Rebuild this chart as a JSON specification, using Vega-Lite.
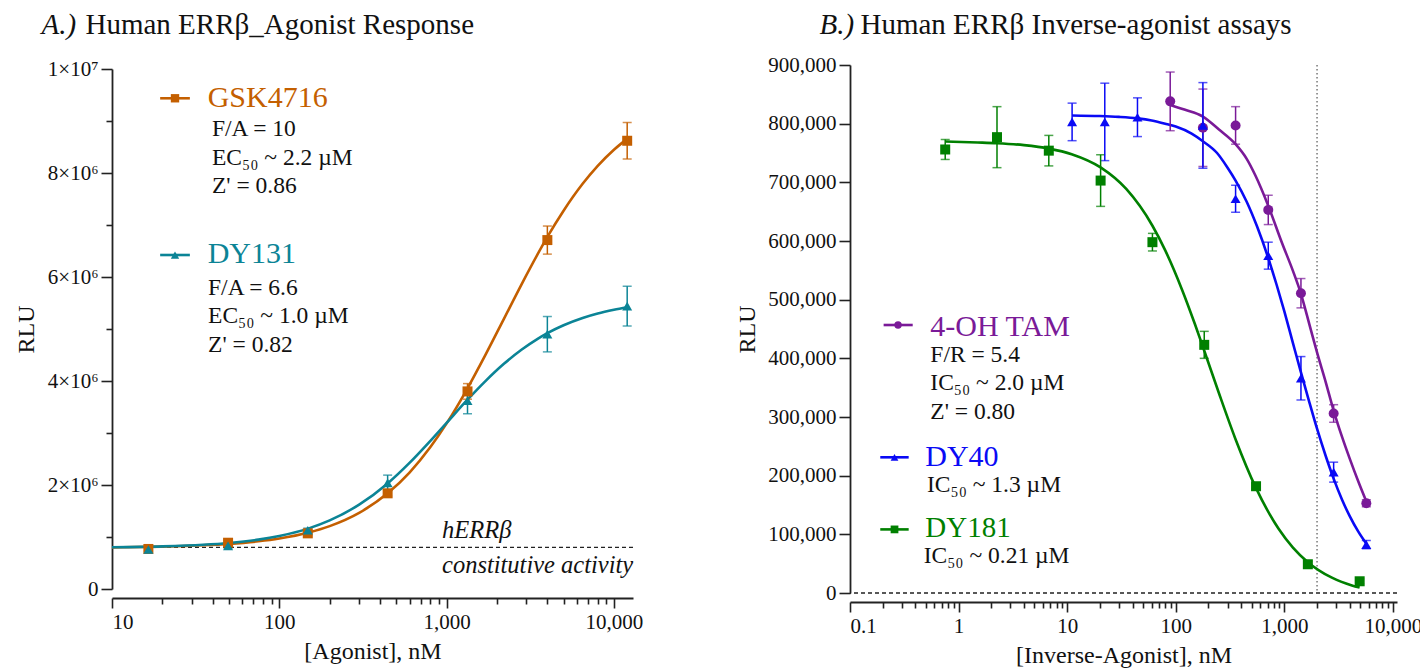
{
  "$schema": "https://vega.github.io/schema/vega-lite/v6.json",
  "padding": {"left": 14, "top": 10, "right": 5, "bottom": 5},
  "config": {
    "view": {"stroke": null},
    "font": "Liberation Serif",
    "axis": {
      "grid": false,
      "domainColor": "#222222",
      "tickColor": "#222222",
      "domainWidth": 1.8,
      "tickWidth": 1.6,
      "labelFont": "Liberation Serif",
      "labelFontSize": 21,
      "labelColor": "#111111",
      "titleFont": "Liberation Serif",
      "titleFontSize": 24,
      "titleFontWeight": "normal",
      "titleColor": "#111111"
    },
    "text": {"font": "Liberation Serif"}
  },
  "datasets": {
    "agonistFit": [
      {"series": "GSK4716", "conc": 10, "rlu": 800000},
      {"series": "GSK4716", "conc": 20, "rlu": 815000},
      {"series": "GSK4716", "conc": 35, "rlu": 840000},
      {"series": "GSK4716", "conc": 50, "rlu": 867000},
      {"series": "GSK4716", "conc": 75, "rlu": 917000},
      {"series": "GSK4716", "conc": 100, "rlu": 971000},
      {"series": "GSK4716", "conc": 150, "rlu": 1087000},
      {"series": "GSK4716", "conc": 200, "rlu": 1209000},
      {"series": "GSK4716", "conc": 300, "rlu": 1464000},
      {"series": "GSK4716", "conc": 444, "rlu": 1840000},
      {"series": "GSK4716", "conc": 600, "rlu": 2240000},
      {"series": "GSK4716", "conc": 800, "rlu": 2730000},
      {"series": "GSK4716", "conc": 1000, "rlu": 3185000},
      {"series": "GSK4716", "conc": 1333, "rlu": 3860000},
      {"series": "GSK4716", "conc": 1700, "rlu": 4492000},
      {"series": "GSK4716", "conc": 2200, "rlu": 5195000},
      {"series": "GSK4716", "conc": 2800, "rlu": 5854000},
      {"series": "GSK4716", "conc": 3500, "rlu": 6438000},
      {"series": "GSK4716", "conc": 4000, "rlu": 6770000},
      {"series": "GSK4716", "conc": 5000, "rlu": 7275000},
      {"series": "GSK4716", "conc": 6500, "rlu": 7792000},
      {"series": "GSK4716", "conc": 8000, "rlu": 8137000},
      {"series": "GSK4716", "conc": 10000, "rlu": 8447000},
      {"series": "GSK4716", "conc": 12000, "rlu": 8656000},
      {"series": "DY131", "conc": 10, "rlu": 802000},
      {"series": "DY131", "conc": 20, "rlu": 820000},
      {"series": "DY131", "conc": 35, "rlu": 851000},
      {"series": "DY131", "conc": 50, "rlu": 886000},
      {"series": "DY131", "conc": 75, "rlu": 950000},
      {"series": "DY131", "conc": 100, "rlu": 1020000},
      {"series": "DY131", "conc": 150, "rlu": 1166000},
      {"series": "DY131", "conc": 200, "rlu": 1319000},
      {"series": "DY131", "conc": 300, "rlu": 1622000},
      {"series": "DY131", "conc": 444, "rlu": 2030000},
      {"series": "DY131", "conc": 600, "rlu": 2424000},
      {"series": "DY131", "conc": 800, "rlu": 2849000},
      {"series": "DY131", "conc": 1000, "rlu": 3195000},
      {"series": "DY131", "conc": 1333, "rlu": 3640000},
      {"series": "DY131", "conc": 1700, "rlu": 3993000},
      {"series": "DY131", "conc": 2200, "rlu": 4330000},
      {"series": "DY131", "conc": 2800, "rlu": 4601000},
      {"series": "DY131", "conc": 3500, "rlu": 4811000},
      {"series": "DY131", "conc": 4000, "rlu": 4920000},
      {"series": "DY131", "conc": 5000, "rlu": 5072000},
      {"series": "DY131", "conc": 6500, "rlu": 5212000},
      {"series": "DY131", "conc": 8000, "rlu": 5298000},
      {"series": "DY131", "conc": 10000, "rlu": 5370000},
      {"series": "DY131", "conc": 12000, "rlu": 5420000}
    ],
    "agonistPts": [
      {"series": "GSK4716", "conc": 16.5, "rlu": 770000, "sem": 30000},
      {"series": "GSK4716", "conc": 49.4, "rlu": 890000, "sem": 50000},
      {"series": "GSK4716", "conc": 148, "rlu": 1070000, "sem": 40000},
      {"series": "GSK4716", "conc": 444, "rlu": 1840000, "sem": 50000},
      {"series": "GSK4716", "conc": 1333, "rlu": 3800000, "sem": 150000},
      {"series": "GSK4716", "conc": 4000, "rlu": 6710000, "sem": 270000},
      {"series": "GSK4716", "conc": 12000, "rlu": 8620000, "sem": 350000},
      {"series": "DY131", "conc": 16.5, "rlu": 760000, "sem": 40000},
      {"series": "DY131", "conc": 49.4, "rlu": 830000, "sem": 50000},
      {"series": "DY131", "conc": 148, "rlu": 1130000, "sem": 40000},
      {"series": "DY131", "conc": 444, "rlu": 2040000, "sem": 150000},
      {"series": "DY131", "conc": 1333, "rlu": 3620000, "sem": 250000},
      {"series": "DY131", "conc": 4000, "rlu": 4900000, "sem": 340000},
      {"series": "DY131", "conc": 12000, "rlu": 5440000, "sem": 380000}
    ],
    "inverseFit": [
      {"series": "4-OH TAM", "conc": 88.9, "rlu": 832000},
      {"series": "4-OH TAM", "conc": 120, "rlu": 824000},
      {"series": "4-OH TAM", "conc": 177.8, "rlu": 812000},
      {"series": "4-OH TAM", "conc": 250, "rlu": 790000},
      {"series": "4-OH TAM", "conc": 355.6, "rlu": 765000},
      {"series": "4-OH TAM", "conc": 450, "rlu": 740000},
      {"series": "4-OH TAM", "conc": 540, "rlu": 712000},
      {"series": "4-OH TAM", "conc": 711, "rlu": 660000},
      {"series": "4-OH TAM", "conc": 950, "rlu": 597000},
      {"series": "4-OH TAM", "conc": 1200, "rlu": 549000},
      {"series": "4-OH TAM", "conc": 1422, "rlu": 510000},
      {"series": "4-OH TAM", "conc": 1700, "rlu": 458000},
      {"series": "4-OH TAM", "conc": 2000, "rlu": 410000},
      {"series": "4-OH TAM", "conc": 2400, "rlu": 360000},
      {"series": "4-OH TAM", "conc": 2844, "rlu": 311000},
      {"series": "4-OH TAM", "conc": 3400, "rlu": 266000},
      {"series": "4-OH TAM", "conc": 4000, "rlu": 229000},
      {"series": "4-OH TAM", "conc": 4800, "rlu": 190000},
      {"series": "4-OH TAM", "conc": 5688, "rlu": 156000},
      {"series": "DY40", "conc": 11.1, "rlu": 814000},
      {"series": "DY40", "conc": 20, "rlu": 813000},
      {"series": "DY40", "conc": 30, "rlu": 811500},
      {"series": "DY40", "conc": 44.4, "rlu": 809000},
      {"series": "DY40", "conc": 60, "rlu": 805500},
      {"series": "DY40", "conc": 80, "rlu": 800000},
      {"series": "DY40", "conc": 100, "rlu": 795000},
      {"series": "DY40", "conc": 140, "rlu": 783000},
      {"series": "DY40", "conc": 177.8, "rlu": 770000},
      {"series": "DY40", "conc": 240, "rlu": 750000},
      {"series": "DY40", "conc": 300, "rlu": 725000},
      {"series": "DY40", "conc": 355.6, "rlu": 703000},
      {"series": "DY40", "conc": 450, "rlu": 667000},
      {"series": "DY40", "conc": 560, "rlu": 625000},
      {"series": "DY40", "conc": 711, "rlu": 571000},
      {"series": "DY40", "conc": 850, "rlu": 525000},
      {"series": "DY40", "conc": 1000, "rlu": 480000},
      {"series": "DY40", "conc": 1200, "rlu": 426000},
      {"series": "DY40", "conc": 1422, "rlu": 376000},
      {"series": "DY40", "conc": 1700, "rlu": 325000},
      {"series": "DY40", "conc": 2000, "rlu": 280000},
      {"series": "DY40", "conc": 2400, "rlu": 234000},
      {"series": "DY40", "conc": 2844, "rlu": 195000},
      {"series": "DY40", "conc": 3400, "rlu": 159000},
      {"series": "DY40", "conc": 4000, "rlu": 131000},
      {"series": "DY40", "conc": 4800, "rlu": 104500},
      {"series": "DY40", "conc": 5688, "rlu": 84000},
      {"series": "DY181", "conc": 0.75, "rlu": 769500},
      {"series": "DY181", "conc": 1.5, "rlu": 767900},
      {"series": "DY181", "conc": 2.25, "rlu": 766700},
      {"series": "DY181", "conc": 4, "rlu": 763400},
      {"series": "DY181", "conc": 6.8, "rlu": 757500},
      {"series": "DY181", "conc": 11, "rlu": 748000},
      {"series": "DY181", "conc": 20.3, "rlu": 725500},
      {"series": "DY181", "conc": 35, "rlu": 688700},
      {"series": "DY181", "conc": 61, "rlu": 626000},
      {"series": "DY181", "conc": 80, "rlu": 584000},
      {"series": "DY181", "conc": 114, "rlu": 517500},
      {"series": "DY181", "conc": 150, "rlu": 458500},
      {"series": "DY181", "conc": 183, "rlu": 413000},
      {"series": "DY181", "conc": 250, "rlu": 340400},
      {"series": "DY181", "conc": 353, "rlu": 263500},
      {"series": "DY181", "conc": 549, "rlu": 178700},
      {"series": "DY181", "conc": 885, "rlu": 109600},
      {"series": "DY181", "conc": 1200, "rlu": 77500},
      {"series": "DY181", "conc": 1646, "rlu": 52600},
      {"series": "DY181", "conc": 2742, "rlu": 26100},
      {"series": "DY181", "conc": 4190, "rlu": 12900},
      {"series": "DY181", "conc": 4938, "rlu": 9200}
    ],
    "inversePts": [
      {"series": "4-OH TAM", "conc": 88.9, "rlu": 838000, "sem": 50000},
      {"series": "4-OH TAM", "conc": 177.8, "rlu": 793000, "sem": 66000},
      {"series": "4-OH TAM", "conc": 355.6, "rlu": 797000, "sem": 32000},
      {"series": "4-OH TAM", "conc": 711, "rlu": 653000, "sem": 25000},
      {"series": "4-OH TAM", "conc": 1422, "rlu": 511000, "sem": 25000},
      {"series": "4-OH TAM", "conc": 2844, "rlu": 306000, "sem": 15000},
      {"series": "4-OH TAM", "conc": 5688, "rlu": 153000, "sem": 6000},
      {"series": "DY40", "conc": 11.1, "rlu": 803000, "sem": 32000},
      {"series": "DY40", "conc": 22.2, "rlu": 803000, "sem": 66000},
      {"series": "DY40", "conc": 44.4, "rlu": 811000, "sem": 33000},
      {"series": "DY40", "conc": 177.8, "rlu": 797000, "sem": 73000},
      {"series": "DY40", "conc": 355.6, "rlu": 672000, "sem": 23000},
      {"series": "DY40", "conc": 711, "rlu": 575000, "sem": 23000},
      {"series": "DY40", "conc": 1422, "rlu": 366000, "sem": 37000},
      {"series": "DY40", "conc": 2844, "rlu": 206000, "sem": 17000},
      {"series": "DY40", "conc": 5688, "rlu": 82500, "sem": 7000},
      {"series": "DY181", "conc": 0.753, "rlu": 756000, "sem": 17000},
      {"series": "DY181", "conc": 2.258, "rlu": 777000, "sem": 52000},
      {"series": "DY181", "conc": 6.774, "rlu": 754000, "sem": 26000},
      {"series": "DY181", "conc": 20.32, "rlu": 703000, "sem": 44000},
      {"series": "DY181", "conc": 60.97, "rlu": 598000, "sem": 15000},
      {"series": "DY181", "conc": 182.9, "rlu": 423000, "sem": 23000},
      {"series": "DY181", "conc": 548.7, "rlu": 182000, "sem": 5000},
      {"series": "DY181", "conc": 1646, "rlu": 49000, "sem": 5000},
      {"series": "DY181", "conc": 4938, "rlu": 20000, "sem": 4000}
    ]
  },
  "hconcat": [
    {
      "width": 521,
      "height": 520,
      "resolve": {"axis": {"x": "independent", "y": "independent"}},
      "layer": [
        {
          "data": {"values": [{}]},
          "mark": {"type": "rule", "strokeDash": [4, 3], "strokeWidth": 1.3, "color": "#222222"},
          "encoding": {"y": {"datum": 800000, "type": "quantitative", "axis": null}}
        },
        {
          "data": {"name": "agonistFit"},
          "mark": {"type": "line", "strokeWidth": 2.6, "interpolate": "monotone"},
          "encoding": {
            "x": {
              "field": "conc", "type": "quantitative",
              "scale": {"type": "log", "domain": [10, 13000], "nice": false},
              "axis": {"orient": "bottom", "values": [10, 100, 1000, 10000], "format": ",d", "title": "[Agonist], nM", "offset": 9, "tickSize": 10, "labelPadding": 3, "titlePadding": 7}
            },
            "y": {
              "field": "rlu", "type": "quantitative",
              "scale": {"domain": [0, 10000000], "nice": false},
              "axis": {"orient": "left", "values": [0, 2000000, 4000000, 6000000, 8000000, 10000000], "labelExpr": "datum.value == 0 ? '0' : datum.value >= 10000000 ? '1×10⁷' : format(datum.value / 1000000, 'd') + '×10⁶'", "title": "RLU", "tickSize": 11, "labelPadding": 3, "titlePadding": 9}
            },
            "color": {"field": "series", "type": "nominal", "scale": {"domain": ["GSK4716", "DY131"], "range": ["#c45f00", "#0b8496"]}, "legend": null}
          }
        },
        {
          "data": {"name": "agonistPts"},
          "mark": {"type": "errorbar", "ticks": {"size": 9}, "thickness": 1.5},
          "encoding": {
            "x": {"field": "conc", "type": "quantitative", "axis": null},
            "y": {"field": "rlu", "type": "quantitative", "axis": null},
            "yError": {"field": "sem"},
            "color": {"field": "series", "type": "nominal", "legend": null}
          }
        },
        {
          "data": {"name": "agonistPts"},
          "mark": {"type": "point", "filled": true, "opacity": 1, "size": 100},
          "encoding": {
            "x": {
              "field": "conc", "type": "quantitative",
              "axis": {"orient": "bottom", "values": [20, 30, 40, 50, 60, 70, 80, 90, 200, 300, 400, 500, 600, 700, 800, 900, 2000, 3000, 4000, 5000, 6000, 7000, 8000, 9000], "labels": false, "domain": false, "tickSize": 6, "offset": 9, "title": null}
            },
            "y": {
              "field": "rlu", "type": "quantitative",
              "axis": {"orient": "left", "values": [1000000, 3000000, 5000000, 7000000, 9000000], "labels": false, "domain": false, "tickSize": 6, "title": null}
            },
            "color": {"field": "series", "type": "nominal", "legend": null},
            "shape": {"field": "series", "type": "nominal", "scale": {"domain": ["GSK4716", "DY131"], "range": ["square", "triangle-up"]}, "legend": null}
          }
        },
        {
          "data": {"values": [{}]},
          "mark": {"type": "rule", "color": "#c45f00", "strokeWidth": 2.6},
          "encoding": {
            "x": {"datum": 19.4, "type": "quantitative", "axis": {"orient": "top", "domain": false, "ticks": false, "labels": false, "title": "A.)", "titleFontStyle": "italic", "titleFontSize": 29, "titleX": -71, "titleY": -36, "titleAlign": "left", "titleBaseline": "alphabetic", "titleAngle": 0}},
            "x2": {"datum": 29.2},
            "y": {"datum": 9437000, "type": "quantitative", "axis": null}
          }
        },
        {
          "data": {"values": [{}]},
          "mark": {"type": "point", "shape": "square", "filled": true, "opacity": 1, "size": 70, "color": "#c45f00"},
          "encoding": {
            "x": {"datum": 23.8, "type": "quantitative", "axis": null},
            "y": {"datum": 9437000, "type": "quantitative", "axis": null}
          }
        },
        {
          "data": {"values": [{}]},
          "mark": {"type": "text", "text": "GSK4716", "align": "left", "baseline": "alphabetic", "fontSize": 30, "color": "#c45f00"},
          "encoding": {
            "x": {"datum": 37.3, "type": "quantitative", "axis": null},
            "y": {"datum": 9275000, "type": "quantitative", "axis": null}
          }
        },
        {
          "data": {"values": [{}]},
          "mark": {"type": "text", "text": ["F/A = 10", "EC₅₀ ~ 2.2 µM", "Z' = 0.86"], "lineHeight": 28.6, "align": "left", "baseline": "alphabetic", "fontSize": 23.5, "color": "#111111"},
          "encoding": {
            "x": {"datum": 39.6, "type": "quantitative", "axis": null},
            "y": {"datum": 8712000, "type": "quantitative", "axis": null}
          }
        },
        {
          "data": {"values": [{}]},
          "mark": {"type": "rule", "color": "#0b8496", "strokeWidth": 2.6},
          "encoding": {
            "x": {"datum": 19.4, "type": "quantitative", "axis": {"orient": "top", "domain": false, "ticks": false, "labels": false, "title": "Human ERRβ_Agonist Response", "titleFontSize": 29, "titleX": -27, "titleY": -36, "titleAlign": "left", "titleBaseline": "alphabetic", "titleAngle": 0}},
            "x2": {"datum": 29.2},
            "y": {"datum": 6423000, "type": "quantitative", "axis": null}
          }
        },
        {
          "data": {"values": [{}]},
          "mark": {"type": "point", "shape": "triangle-up", "filled": true, "opacity": 1, "size": 70, "color": "#0b8496"},
          "encoding": {
            "x": {"datum": 23.8, "type": "quantitative", "axis": null},
            "y": {"datum": 6423000, "type": "quantitative", "axis": null}
          }
        },
        {
          "data": {"values": [{}]},
          "mark": {"type": "text", "text": "DY131", "align": "left", "baseline": "alphabetic", "fontSize": 30, "color": "#0b8496"},
          "encoding": {
            "x": {"datum": 37.3, "type": "quantitative", "axis": null},
            "y": {"datum": 6263000, "type": "quantitative", "axis": null}
          }
        },
        {
          "data": {"values": [{}]},
          "mark": {"type": "text", "text": ["F/A = 6.6", "EC₅₀ ~ 1.0 µM", "Z' = 0.82"], "lineHeight": 28.4, "align": "left", "baseline": "alphabetic", "fontSize": 23.5, "color": "#111111"},
          "encoding": {
            "x": {"datum": 37.5, "type": "quantitative", "axis": null},
            "y": {"datum": 5654000, "type": "quantitative", "axis": null}
          }
        },
        {
          "data": {"values": [{}]},
          "mark": {"type": "text", "text": "hERRβ", "align": "left", "baseline": "alphabetic", "fontSize": 24.5, "fontStyle": "italic", "color": "#111111"},
          "encoding": {
            "x": {"datum": 938.6, "type": "quantitative", "axis": null},
            "y": {"datum": 975000, "type": "quantitative", "axis": null}
          }
        },
        {
          "data": {"values": [{}]},
          "mark": {"type": "text", "text": "constitutive activity", "align": "left", "baseline": "alphabetic", "fontSize": 24.5, "fontStyle": "italic", "color": "#111111"},
          "encoding": {
            "x": {"datum": 938.6, "type": "quantitative", "axis": null},
            "y": {"datum": 302000, "type": "quantitative", "axis": null}
          }
        }
      ]
    },
    {
      "width": 547,
      "height": 528,
      "resolve": {"axis": {"x": "independent", "y": "independent"}},
      "layer": [
        {
          "data": {"values": [{}]},
          "mark": {"type": "rule", "strokeDash": [4, 3], "strokeWidth": 1.3, "color": "#222222"},
          "encoding": {"y": {"datum": 0, "type": "quantitative", "axis": null}}
        },
        {
          "data": {"values": [{}]},
          "mark": {"type": "rule", "strokeDash": [1.5, 2.5], "strokeWidth": 1.2, "color": "#555555"},
          "encoding": {"x": {"datum": 2000, "type": "quantitative", "axis": null}}
        },
        {
          "data": {"name": "inverseFit"},
          "mark": {"type": "line", "strokeWidth": 2.6, "interpolate": "monotone"},
          "encoding": {
            "x": {
              "field": "conc", "type": "quantitative",
              "scale": {"type": "log", "domain": [0.1, 10900], "nice": false},
              "axis": {"orient": "bottom", "values": [0.1, 1, 10, 100, 1000, 10000], "labelExpr": "datum.value < 1 ? '0.1' : format(datum.value, ',d')", "title": "[Inverse-Agonist], nM", "offset": 9, "tickSize": 10, "labelPadding": 3, "titlePadding": 7}
            },
            "y": {
              "field": "rlu", "type": "quantitative",
              "scale": {"domain": [0, 900000], "nice": false},
              "axis": {"orient": "left", "values": [0, 100000, 200000, 300000, 400000, 500000, 600000, 700000, 800000, 900000], "format": ",d", "title": "RLU", "tickSize": 11, "labelPadding": 3, "titlePadding": 8}
            },
            "color": {"field": "series", "type": "nominal", "scale": {"domain": ["4-OH TAM", "DY40", "DY181"], "range": ["#7a1a98", "#0a0af5", "#008000"]}, "legend": null}
          }
        },
        {
          "data": {"name": "inversePts"},
          "mark": {"type": "errorbar", "ticks": {"size": 9}, "thickness": 1.5},
          "encoding": {
            "x": {"field": "conc", "type": "quantitative", "axis": null},
            "y": {"field": "rlu", "type": "quantitative", "axis": null},
            "yError": {"field": "sem"},
            "color": {"field": "series", "type": "nominal", "legend": null}
          }
        },
        {
          "data": {"name": "inversePts"},
          "mark": {"type": "point", "filled": true, "opacity": 1, "size": 100},
          "encoding": {
            "x": {
              "field": "conc", "type": "quantitative",
              "axis": {"orient": "bottom", "values": [0.2, 0.3, 0.4, 0.5, 0.6, 0.7, 0.8, 0.9, 2, 3, 4, 5, 6, 7, 8, 9, 20, 30, 40, 50, 60, 70, 80, 90, 200, 300, 400, 500, 600, 700, 800, 900, 2000, 3000, 4000, 5000, 6000, 7000, 8000, 9000], "labels": false, "domain": false, "tickSize": 6, "offset": 9, "title": null}
            },
            "y": {"field": "rlu", "type": "quantitative", "axis": null},
            "color": {"field": "series", "type": "nominal", "legend": null},
            "shape": {"field": "series", "type": "nominal", "scale": {"domain": ["4-OH TAM", "DY40", "DY181"], "range": ["circle", "triangle-up", "square"]}, "legend": null}
          }
        },
        {
          "data": {"values": [{}]},
          "mark": {"type": "rule", "color": "#7a1a98", "strokeWidth": 2.6},
          "encoding": {
            "x": {"datum": 0.204, "type": "quantitative", "axis": {"orient": "top", "domain": false, "ticks": false, "labels": false, "title": "B.)", "titleFontStyle": "italic", "titleFontSize": 29, "titleX": -31, "titleY": -32, "titleAlign": "left", "titleBaseline": "alphabetic", "titleAngle": 0}},
            "x2": {"datum": 0.378},
            "y": {"datum": 456800, "type": "quantitative", "axis": null}
          }
        },
        {
          "data": {"values": [{}]},
          "mark": {"type": "point", "shape": "circle", "filled": true, "opacity": 1, "size": 55, "color": "#7a1a98"},
          "encoding": {
            "x": {"datum": 0.277, "type": "quantitative", "axis": null},
            "y": {"datum": 456800, "type": "quantitative", "axis": null}
          }
        },
        {
          "data": {"values": [{}]},
          "mark": {"type": "text", "text": "4-OH TAM", "align": "left", "baseline": "alphabetic", "fontSize": 30, "color": "#7a1a98"},
          "encoding": {
            "x": {"datum": 0.549, "type": "quantitative", "axis": null},
            "y": {"datum": 438700, "type": "quantitative", "axis": null}
          }
        },
        {
          "data": {"values": [{}]},
          "mark": {"type": "text", "text": ["F/R = 5.4", "IC₅₀ ~ 2.0 µM", "Z' = 0.80"], "lineHeight": 28.7, "align": "left", "baseline": "alphabetic", "fontSize": 23.5, "color": "#111111"},
          "encoding": {
            "x": {"datum": 0.549, "type": "quantitative", "axis": null},
            "y": {"datum": 394400, "type": "quantitative", "axis": null}
          }
        },
        {
          "data": {"values": [{}]},
          "mark": {"type": "rule", "color": "#0a0af5", "strokeWidth": 2.6},
          "encoding": {
            "x": {"datum": 0.19, "type": "quantitative", "axis": {"orient": "top", "domain": false, "ticks": false, "labels": false, "title": "Human ERRβ Inverse-agonist assays", "titleFontSize": 29, "titleX": 10, "titleY": -32, "titleAlign": "left", "titleBaseline": "alphabetic", "titleAngle": 0}},
            "x2": {"datum": 0.347},
            "y": {"datum": 231300, "type": "quantitative", "axis": null}
          }
        },
        {
          "data": {"values": [{}]},
          "mark": {"type": "point", "shape": "triangle-up", "filled": true, "opacity": 1, "size": 60, "color": "#0a0af5"},
          "encoding": {
            "x": {"datum": 0.257, "type": "quantitative", "axis": null},
            "y": {"datum": 231300, "type": "quantitative", "axis": null}
          }
        },
        {
          "data": {"values": [{}]},
          "mark": {"type": "text", "text": "DY40", "align": "left", "baseline": "alphabetic", "fontSize": 30, "color": "#0a0af5"},
          "encoding": {
            "x": {"datum": 0.4935, "type": "quantitative", "axis": null},
            "y": {"datum": 217000, "type": "quantitative", "axis": null}
          }
        },
        {
          "data": {"values": [{}]},
          "mark": {"type": "text", "text": "IC₅₀ ~ 1.3 µM", "align": "left", "baseline": "alphabetic", "fontSize": 23.5, "color": "#111111"},
          "encoding": {
            "x": {"datum": 0.512, "type": "quantitative", "axis": null},
            "y": {"datum": 172800, "type": "quantitative", "axis": null}
          }
        },
        {
          "data": {"values": [{}]},
          "mark": {"type": "rule", "color": "#008000", "strokeWidth": 2.6},
          "encoding": {
            "x": {"datum": 0.19, "type": "quantitative", "axis": null},
            "x2": {"datum": 0.347},
            "y": {"datum": 108400, "type": "quantitative", "axis": null}
          }
        },
        {
          "data": {"values": [{}]},
          "mark": {"type": "point", "shape": "square", "filled": true, "opacity": 1, "size": 60, "color": "#008000"},
          "encoding": {
            "x": {"datum": 0.257, "type": "quantitative", "axis": null},
            "y": {"datum": 108400, "type": "quantitative", "axis": null}
          }
        },
        {
          "data": {"values": [{}]},
          "mark": {"type": "text", "text": "DY181", "align": "left", "baseline": "alphabetic", "fontSize": 29, "color": "#008000"},
          "encoding": {
            "x": {"datum": 0.4935, "type": "quantitative", "axis": null},
            "y": {"datum": 95500, "type": "quantitative", "axis": null}
          }
        },
        {
          "data": {"values": [{}]},
          "mark": {"type": "text", "text": "IC₅₀ ~ 0.21 µM", "align": "left", "baseline": "alphabetic", "fontSize": 23.5, "color": "#111111"},
          "encoding": {
            "x": {"datum": 0.477, "type": "quantitative", "axis": null},
            "y": {"datum": 50300, "type": "quantitative", "axis": null}
          }
        }
      ]
    }
  ],
  "resolve": {"scale": {"color": "independent", "shape": "independent"}},
  "spacing": 217,
  "bounds": "flush",
  "center": true
}
